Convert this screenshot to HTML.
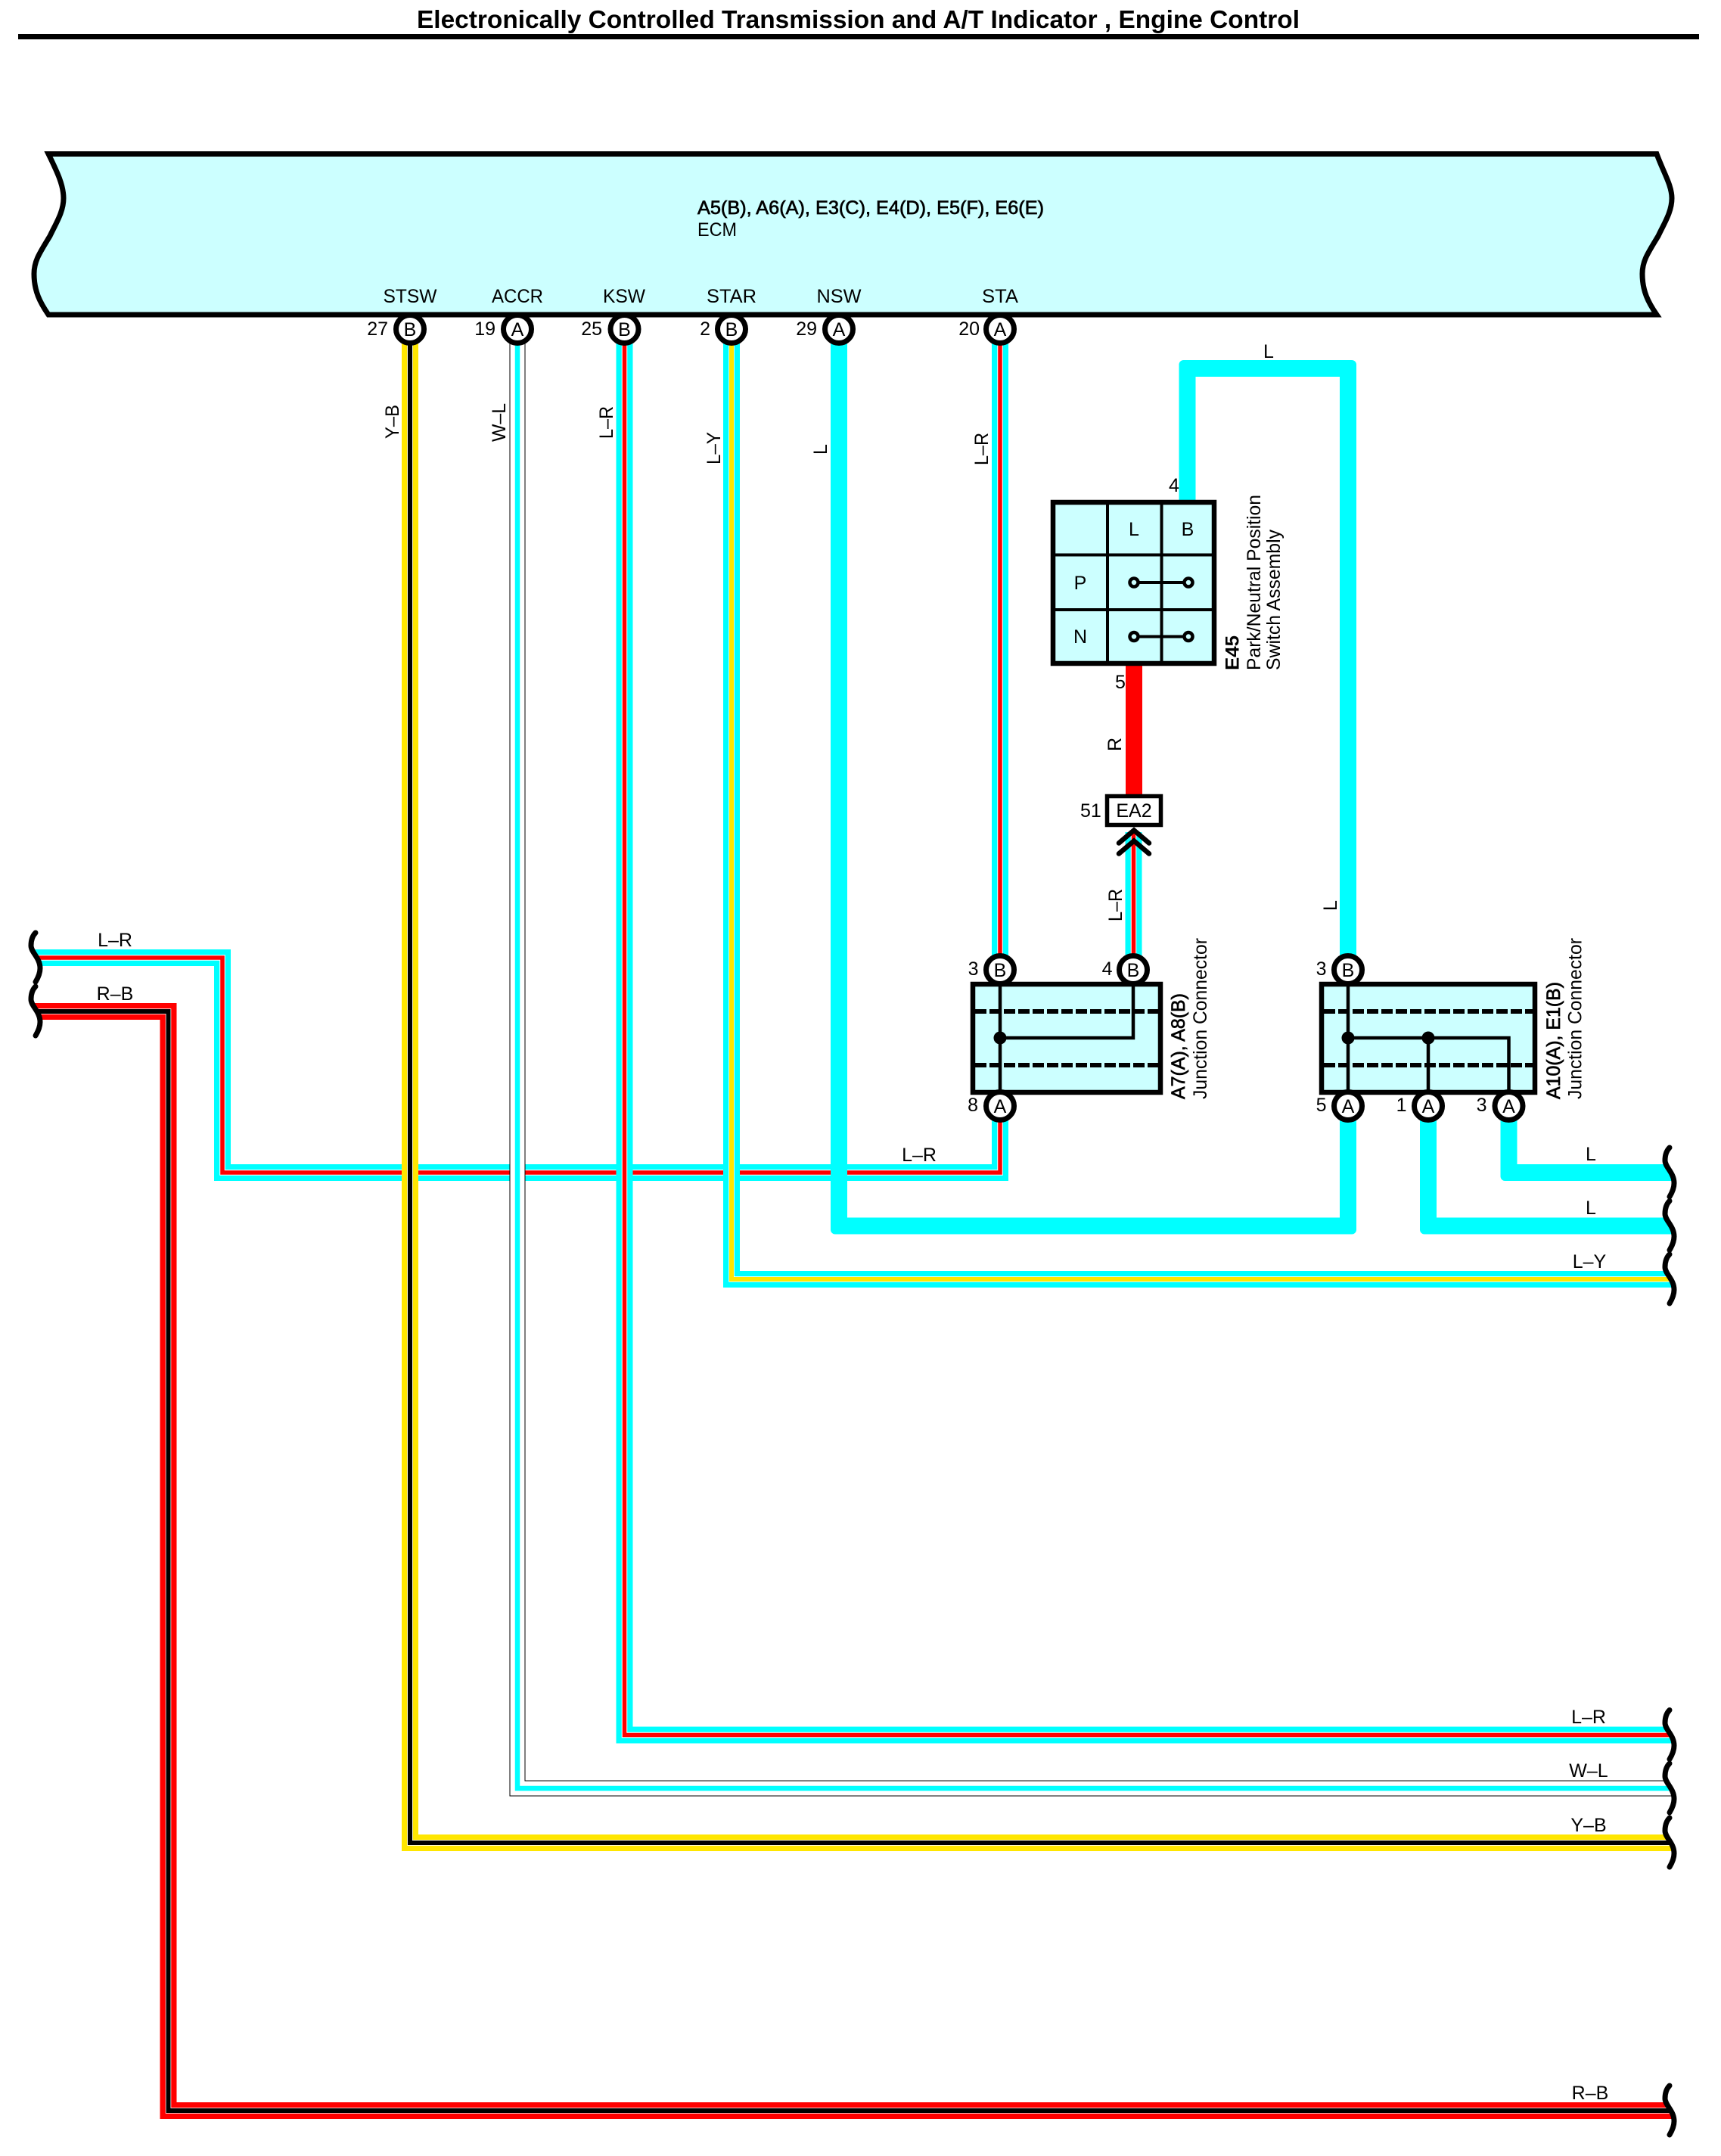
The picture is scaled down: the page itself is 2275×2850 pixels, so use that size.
<!DOCTYPE html>
<html><head><meta charset="utf-8"><title>Electronically Controlled Transmission and A/T Indicator, Engine Control</title>
<style>
html,body{margin:0;padding:0;background:#fff;width:2275px;height:2850px;overflow:hidden}
svg{display:block}
text{font-family:"Liberation Sans",sans-serif;font-size:25px;fill:#000}
.m{text-anchor:middle}.e{text-anchor:end}
.h{stroke:#000;stroke-width:.7px}
path,rect,line,circle{stroke-linejoin:miter}
.f{fill:none}
.cy{stroke:#0ff;stroke-width:22;fill:none}
.th{stroke:#0ff;stroke-width:22;fill:none}
.ye{stroke:#ffe600;stroke-width:22;fill:none}
.rd{stroke:#f00;stroke-width:22;fill:none}
.w{stroke:#fff;stroke-width:7.5;fill:none}
.cr{stroke:#f00;stroke-width:5.5;fill:none}
.ck{stroke:#000;stroke-width:6;fill:none}
.cyl{stroke:#ffe600;stroke-width:6;fill:none}
.tear{fill:none;stroke:#000;stroke-width:7;stroke-linecap:round}
.pin{fill:#fff;stroke:#000;stroke-width:7}
.box{fill:#ccffff;stroke:#000;stroke-width:6.5}
.ln{stroke:#000;stroke-width:4.5;fill:none}
.ds{stroke:#000;stroke-width:6;stroke-dasharray:15 4;fill:none}
</style></head><body>
<svg width="2275" height="2850" viewBox="0 0 2275 2850" xmlns="http://www.w3.org/2000/svg">
<rect width="2275" height="2850" fill="#fff"/>
<text x="551" y="37" textLength="1167" lengthAdjust="spacingAndGlyphs" style="font-size:33px;font-weight:bold">Electronically Controlled Transmission and A/T Indicator , Engine Control</text>
<rect x="24" y="45" width="2222" height="7" fill="#000"/>

<!-- STA L-R wire (drawn first, others cross over) -->
<path class="cy" d="M40 1266H294V1550H1322V1262"/>
<path class="w" d="M40 1266H294V1550H1322V1262"/>
<path class="cr" d="M40 1266H294V1550H1322V1262"/>
<path class="cy" d="M1322 450V1290"/>
<path class="w" d="M1322 450V1290"/>
<path class="cr" d="M1322 450V1290"/>

<!-- R-B -->
<path class="rd" d="M40 1337H222.5V2790H2215"/>
<path class="w" d="M40 1337H222.5V2790H2215"/>
<path class="ck" d="M40 1337H222.5V2790H2215"/>

<!-- W-L -->
<path d="M684 450V2364H2215" fill="none" stroke="#000" stroke-width="21"/>
<path d="M684 450V2364H2215" fill="none" stroke="#fff" stroke-width="19"/>
<path d="M684 450V2364H2215" fill="none" stroke="#0ff" stroke-width="6.5"/>

<!-- Y-B -->
<path class="ye" d="M542 450V2436H2215"/>
<path class="w" d="M542 450V2436H2215"/>
<path class="ck" d="M542 450V2436H2215"/>

<!-- KSW L-R -->
<path class="cy" d="M825.5 450V2293.5H2215"/>
<path class="w" d="M825.5 450V2293.5H2215"/>
<path class="cr" d="M825.5 450V2293.5H2215"/>

<!-- L-Y -->
<path class="cy" d="M967 450V1691H2215"/>
<path class="w" d="M967 450V1691H2215"/>
<path class="cyl" d="M967 450V1691H2215"/>

<!-- thick L -->
<path class="th" d="M1109 450V1620.5H1782V1480"/>
<path class="th" d="M1569.5 665V487H1782V1265"/>
<path class="th" d="M1888 1480V1620.5H2215"/>
<path class="th" d="M1994.5 1480V1550H2215"/>
<!-- rounded outer corners of thick wires -->
<path d="M1098 1631.5h6a6 6 0 0 1-6-6z" fill="#fff"/>
<path d="M1793 1631.5h-6a6 6 0 0 0 6-6z" fill="#fff"/>
<path d="M1558.5 476h6a6 6 0 0 0-6 6z" fill="#fff"/>
<path d="M1793 476h-6a6 6 0 0 1 6 6z" fill="#fff"/>
<path d="M1877 1631.5h6a6 6 0 0 1-6-6z" fill="#fff"/>
<path d="M1983.5 1561h6a6 6 0 0 1-6-6z" fill="#fff"/>

<!-- R thick -->
<rect x="1488" y="878" width="22" height="174" fill="#f00"/>

<!-- L-R to 51 -->
<path class="cy" d="M1498.5 1100V1265"/>
<path class="w" d="M1498.5 1100V1265"/>
<path class="cr" d="M1498.5 1100V1265"/>

<!-- ECM -->
<path d="M64 203.5H2190C2199 228 2210 245 2210 262C2210 280 2200 295 2192 312C2178 335 2171 345 2171 362C2171 385 2179 400 2190 416H64C53 400 45 385 45 362C45 345 52 335 66 312C74 295 84 280 84 262C84 245 76 228 64 203.5Z" fill="#ccffff" stroke="#000" stroke-width="7" stroke-linejoin="round"/>
<text x="922" y="283" textLength="458" lengthAdjust="spacingAndGlyphs" class="h">A5(B), A6(A), E3(C), E4(D), E5(F), E6(E)</text>
<text x="922" y="312" textLength="52" lengthAdjust="spacingAndGlyphs">ECM</text>
<text x="542" y="400" class="m" textLength="71" lengthAdjust="spacingAndGlyphs">STSW</text>
<text x="684" y="400" class="m" textLength="68" lengthAdjust="spacingAndGlyphs">ACCR</text>
<text x="825" y="400" class="m" textLength="56" lengthAdjust="spacingAndGlyphs">KSW</text>
<text x="967" y="400" class="m" textLength="66" lengthAdjust="spacingAndGlyphs">STAR</text>
<text x="1109" y="400" class="m" textLength="59" lengthAdjust="spacingAndGlyphs">NSW</text>
<text x="1322" y="400" class="m" textLength="48" lengthAdjust="spacingAndGlyphs">STA</text>

<!-- ECM pins -->
<circle class="pin" cx="542" cy="435" r="18.5"/><text x="542" y="444" class="m">B</text><text x="513" y="443" class="e">27</text>
<circle class="pin" cx="684" cy="435" r="18.5"/><text x="684" y="444" class="m">A</text><text x="655" y="443" class="e">19</text>
<circle class="pin" cx="825.5" cy="435" r="18.5"/><text x="825.5" y="444" class="m">B</text><text x="796" y="443" class="e">25</text>
<circle class="pin" cx="967" cy="435" r="18.5"/><text x="967" y="444" class="m">B</text><text x="939" y="443" class="e">2</text>
<circle class="pin" cx="1109" cy="435" r="18.5"/><text x="1109" y="444" class="m">A</text><text x="1080" y="443" class="e">29</text>
<circle class="pin" cx="1322" cy="435" r="18.5"/><text x="1322" y="444" class="m">A</text><text x="1295" y="443" class="e">20</text>

<!-- vertical wire labels -->
<text transform="translate(527,580) rotate(-90)" textLength="45" lengthAdjust="spacingAndGlyphs">Y–B</text>
<text transform="translate(668,584) rotate(-90)" textLength="51" lengthAdjust="spacingAndGlyphs">W–L</text>
<text transform="translate(810,580) rotate(-90)" textLength="43" lengthAdjust="spacingAndGlyphs">L–R</text>
<text transform="translate(952,614) rotate(-90)" textLength="43" lengthAdjust="spacingAndGlyphs">L–Y</text>
<text transform="translate(1093,601) rotate(-90)">L</text>
<text transform="translate(1306,615) rotate(-90)" textLength="43" lengthAdjust="spacingAndGlyphs">L–R</text>
<text transform="translate(1482,993) rotate(-90)">R</text>
<text transform="translate(1483,1218) rotate(-90)" textLength="43" lengthAdjust="spacingAndGlyphs">L–R</text>
<text transform="translate(1767,1204) rotate(-90)">L</text>

<!-- E45 -->
<rect class="box" x="1392" y="664" width="213" height="213"/>
<path d="M1464 664V877M1535.5 664V877M1392 733.5H1605M1392 806H1605" stroke="#000" stroke-width="4" fill="none"/>
<text x="1499" y="708" class="m">L</text>
<text x="1570" y="708" class="m">B</text>
<text x="1428" y="779" class="m">P</text>
<text x="1428" y="850" class="m">N</text>
<path d="M1499 770H1571M1499 841.5H1571" stroke="#000" stroke-width="4" fill="none"/>
<circle cx="1499" cy="770" r="5.5" fill="#ccffff" stroke="#000" stroke-width="4.5"/>
<circle cx="1571" cy="770" r="5.5" fill="#ccffff" stroke="#000" stroke-width="4.5"/>
<circle cx="1499" cy="841.5" r="5.5" fill="#ccffff" stroke="#000" stroke-width="4.5"/>
<circle cx="1571" cy="841.5" r="5.5" fill="#ccffff" stroke="#000" stroke-width="4.5"/>
<text x="1545" y="650">4</text>
<text x="1474" y="910">5</text>
<text x="1677" y="473" class="m">L</text>
<text transform="translate(1637.5,886) rotate(-90)" textLength="46" lengthAdjust="spacingAndGlyphs" style="font-weight:bold">E45</text>
<text transform="translate(1666,886) rotate(-90)" textLength="232" lengthAdjust="spacingAndGlyphs">Park/Neutral Position</text>
<text transform="translate(1692,886) rotate(-90)" textLength="186" lengthAdjust="spacingAndGlyphs">Switch Assembly</text>

<!-- EA2 -->
<rect x="1463.5" y="1052.5" width="71" height="38" fill="#fff" stroke="#000" stroke-width="5.5"/>
<text x="1499" y="1080" class="m">EA2</text>
<text x="1428" y="1080">51</text>
<path d="M1479 1114.5L1499 1097.5L1519 1114.5M1479 1128.5L1499 1111.5L1519 1128.5" fill="none" stroke="#000" stroke-width="6.5" stroke-linecap="round"/>

<!-- A7 A8 junction -->
<rect class="box" x="1286" y="1301" width="248" height="143"/>
<path class="ds" d="M1289 1337H1531M1289 1408H1531"/>
<path class="ln" d="M1322 1300V1446M1322 1372H1498V1300"/>
<circle cx="1322" cy="1372" r="8.5" fill="#000"/>
<circle class="pin" cx="1322" cy="1282" r="18.5"/><text x="1322" y="1291" class="m">B</text><text x="1293.5" y="1289" class="e">3</text>
<circle class="pin" cx="1498" cy="1282" r="18.5"/><text x="1498" y="1291" class="m">B</text><text x="1470.5" y="1289" class="e">4</text>
<circle class="pin" cx="1322" cy="1462" r="18.5"/><text x="1322" y="1471" class="m">A</text><text x="1293" y="1469" class="e">8</text>
<text transform="translate(1566,1453) rotate(-90)" textLength="140" lengthAdjust="spacingAndGlyphs" class="h">A7(A), A8(B)</text>
<text transform="translate(1595,1453) rotate(-90)" textLength="213" lengthAdjust="spacingAndGlyphs">Junction Connector</text>

<!-- A10 E1 junction -->
<rect class="box" x="1747" y="1301" width="282" height="143"/>
<path class="ds" d="M1750 1337H2026M1750 1408H2026"/>
<path class="ln" d="M1782 1300V1446M1888 1446V1372M1782 1372H1994.5V1446"/>
<circle cx="1782" cy="1372" r="8.5" fill="#000"/>
<circle cx="1888" cy="1372" r="8.5" fill="#000"/>
<circle class="pin" cx="1782" cy="1282" r="18.5"/><text x="1782" y="1291" class="m">B</text><text x="1753.5" y="1289" class="e">3</text>
<circle class="pin" cx="1782" cy="1462" r="18.5"/><text x="1782" y="1471" class="m">A</text><text x="1753.5" y="1469" class="e">5</text>
<circle class="pin" cx="1888" cy="1462" r="18.5"/><text x="1888" y="1471" class="m">A</text><text x="1859.5" y="1469" class="e">1</text>
<circle class="pin" cx="1994.5" cy="1462" r="18.5"/><text x="1994.5" y="1471" class="m">A</text><text x="1965.5" y="1469" class="e">3</text>
<text transform="translate(2062,1453) rotate(-90)" textLength="155" lengthAdjust="spacingAndGlyphs" class="h">A10(A), E1(B)</text>
<text transform="translate(2090.5,1453) rotate(-90)" textLength="213" lengthAdjust="spacingAndGlyphs">Junction Connector</text>

<!-- horizontal labels -->
<text x="152" y="1251" class="m">L–R</text>
<text x="152" y="1322" class="m">R–B</text>
<text x="1215" y="1535" class="m">L–R</text>
<text x="2103" y="1534" class="m">L</text>
<text x="2103" y="1605" class="m">L</text>
<text x="2101" y="1676" class="m">L–Y</text>
<text x="2100" y="2278" class="m">L–R</text>
<text x="2100" y="2349" class="m">W–L</text>
<text x="2100" y="2421" class="m">Y–B</text>
<text x="2102" y="2775" class="m">R–B</text>

<!-- left tears -->
<path d="M47 1233C43 1237 41 1243 41 1250C41 1259 53 1266 53 1280C53 1287 50 1293 47 1298L47 1304C43 1308 41 1314 41 1321C41 1330 53 1337 53 1351C53 1358 50 1364 47 1369L0 1369L0 1233Z" fill="#fff"/>
<path class="tear" d="M47 1233C43 1237 41 1243 41 1250C41 1259 53 1266 53 1280C53 1287 50 1293 47 1298"/>
<path class="tear" d="M47 1304C43 1308 41 1314 41 1321C41 1330 53 1337 53 1351C53 1358 50 1364 47 1369"/>

<!-- right tears -->
<path d="M2207 1517c-4 4-6 10-6 17c0 9 12 16 12 30c0 7-3 13-6 18l60 0l0-65Z" fill="#fff"/>
<path d="M2207 1587.5c-4 4-6 10-6 17c0 9 12 16 12 30c0 7-3 13-6 18l60 0l0-65Z" fill="#fff"/>
<path d="M2207 1658c-4 4-6 10-6 17c0 9 12 16 12 30c0 7-3 13-6 18l60 0l0-65Z" fill="#fff"/>
<path d="M2207 2260.5c-4 4-6 10-6 17c0 9 12 16 12 30c0 7-3 13-6 18l60 0l0-65Z" fill="#fff"/>
<path d="M2207 2331c-4 4-6 10-6 17c0 9 12 16 12 30c0 7-3 13-6 18l60 0l0-65Z" fill="#fff"/>
<path d="M2207 2403c-4 4-6 10-6 17c0 9 12 16 12 30c0 7-3 13-6 18l60 0l0-65Z" fill="#fff"/>
<path d="M2207 2757c-4 4-6 10-6 17c0 9 12 16 12 30c0 7-3 13-6 18l60 0l0-65Z" fill="#fff"/>
<path class="tear" d="M2207 1517c-4 4-6 10-6 17c0 9 12 16 12 30c0 7-3 13-6 18"/>
<path class="tear" d="M2207 1587.5c-4 4-6 10-6 17c0 9 12 16 12 30c0 7-3 13-6 18"/>
<path class="tear" d="M2207 1658c-4 4-6 10-6 17c0 9 12 16 12 30c0 7-3 13-6 18"/>
<path class="tear" d="M2207 2260.5c-4 4-6 10-6 17c0 9 12 16 12 30c0 7-3 13-6 18"/>
<path class="tear" d="M2207 2331c-4 4-6 10-6 17c0 9 12 16 12 30c0 7-3 13-6 18"/>
<path class="tear" d="M2207 2403c-4 4-6 10-6 17c0 9 12 16 12 30c0 7-3 13-6 18"/>
<path class="tear" d="M2207 2757c-4 4-6 10-6 17c0 9 12 16 12 30c0 7-3 13-6 18"/>
</svg>
</body></html>
